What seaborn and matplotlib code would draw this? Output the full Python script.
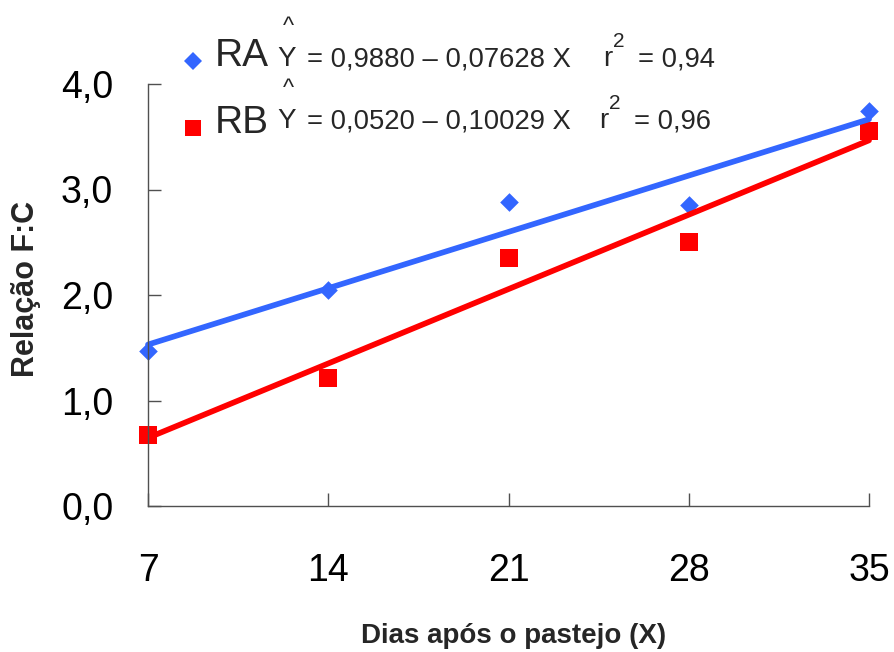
import matplotlib
matplotlib.use("Agg")
import matplotlib.pyplot as plt
import seaborn as sns
import pandas as pd
from matplotlib.lines import Line2D

# data
dias = [7, 14, 21, 28, 35]
ra = [1.47, 2.05, 2.88, 2.85, 3.74]
rb = [0.67, 1.21, 2.35, 2.50, 3.55]
yticks = [0.0, 1.0, 2.0, 3.0, 4.0]
ytick_labels = ["0,0", "1,0", "2,0", "3,0", "4,0"]
series_names = ["RA", "RB"]
eq_text = ["= 0,9880 \u2013 0,07628 X", "= 0,0520 \u2013 0,10029 X"]
r2_text = ["= 0,94", "= 0,96"]

BLUE = "#3366FF"
RED = "#FF0000"

df = pd.DataFrame({"dias": dias, "RA": ra, "RB": rb})

sns.set_theme(style="white")
plt.rcParams["font.family"] = ["Liberation Sans", "DejaVu Sans"]

W, H = 894, 652
fig = plt.figure(figsize=(W / 100, H / 100), dpi=100)
ax = fig.add_axes([148 / W, 1 - 506 / H, (869 - 148) / W, (506 - 84) / H])

sns.regplot(data=df, x="dias", y="RA", ax=ax, ci=None, marker="D", color=BLUE,
            scatter_kws={"s": 90, "clip_on": False, "linewidths": 0, "alpha": 1},
            line_kws={"lw": 4.1, "clip_on": False})
sns.regplot(data=df, x="dias", y="RB", ax=ax, ci=None, marker="s", color=RED,
            scatter_kws={"s": 150, "clip_on": False, "linewidths": 0, "alpha": 1},
            line_kws={"lw": 4.1, "clip_on": False})

ax.set_xlim(7, 35)
ax.set_ylim(0, 4)
ax.set_xticks(dias)
ax.set_xticklabels([str(d) for d in dias])
ax.set_yticks(yticks)
ax.set_yticklabels(ytick_labels)
ax.tick_params(axis="both", direction="in", length=9.5, width=1, color="#505050",
               labelsize=27, labelcolor="black", bottom=True, left=True)
ax.tick_params(axis="x", pad=34)
ax.tick_params(axis="y", pad=25)
sns.despine(ax=ax)
for s in ["left", "bottom"]:
    ax.spines[s].set_color("#505050")
    ax.spines[s].set_linewidth(1)

ax.set_xlabel("Dias após o pastejo (X)", fontsize=20, fontweight="bold")
ax.set_ylabel("Relação F:C", fontsize=22, fontweight="bold")
ax.xaxis.set_label_coords(0.507, -0.277)
ax.yaxis.set_label_coords(-0.148, 0.514)

# legend markers + names
handles = [Line2D([], [], ls="none", marker="D", color=BLUE, markersize=9.5, mew=0),
           Line2D([], [], ls="none", marker="s", color=RED, markersize=12, mew=0)]
leg = fig.legend(handles, series_names, loc="upper left", bbox_to_anchor=(181 / W, 1 - 38 / H),
                 frameon=False, fontsize=28, handlelength=0.6, handletextpad=0.27,
                 labelspacing=0.80, borderpad=0, borderaxespad=0)
# markers sit a little lower than the text centre in the original
for h in leg.legend_handles:
    h.set_ydata([y - 6 for y in h.get_ydata()])

# regression equations
for i, base in enumerate([66, 128]):
    yb = 1 - base / H
    fig.text(277 / W, yb, "Y", fontsize=20, va="baseline", ha="left")
    fig.text(288 / W, 1 - (base - 39) / H, "^", fontsize=17, va="center", ha="center")
    fig.text(307 / W, yb, eq_text[i], fontsize=19.7, va="baseline", ha="left")
    rx = 603 if i == 0 else 599
    fig.text(rx / W, yb, "r", fontsize=20, va="baseline", ha="left")
    fig.text((rx + 10) / W, 1 - (base - 19) / H, "2", fontsize=15, va="baseline", ha="left")
    fig.text((rx + 35) / W, yb, r2_text[i], fontsize=19.7, va="baseline", ha="left")

fig.savefig("out.png", dpi=100)
